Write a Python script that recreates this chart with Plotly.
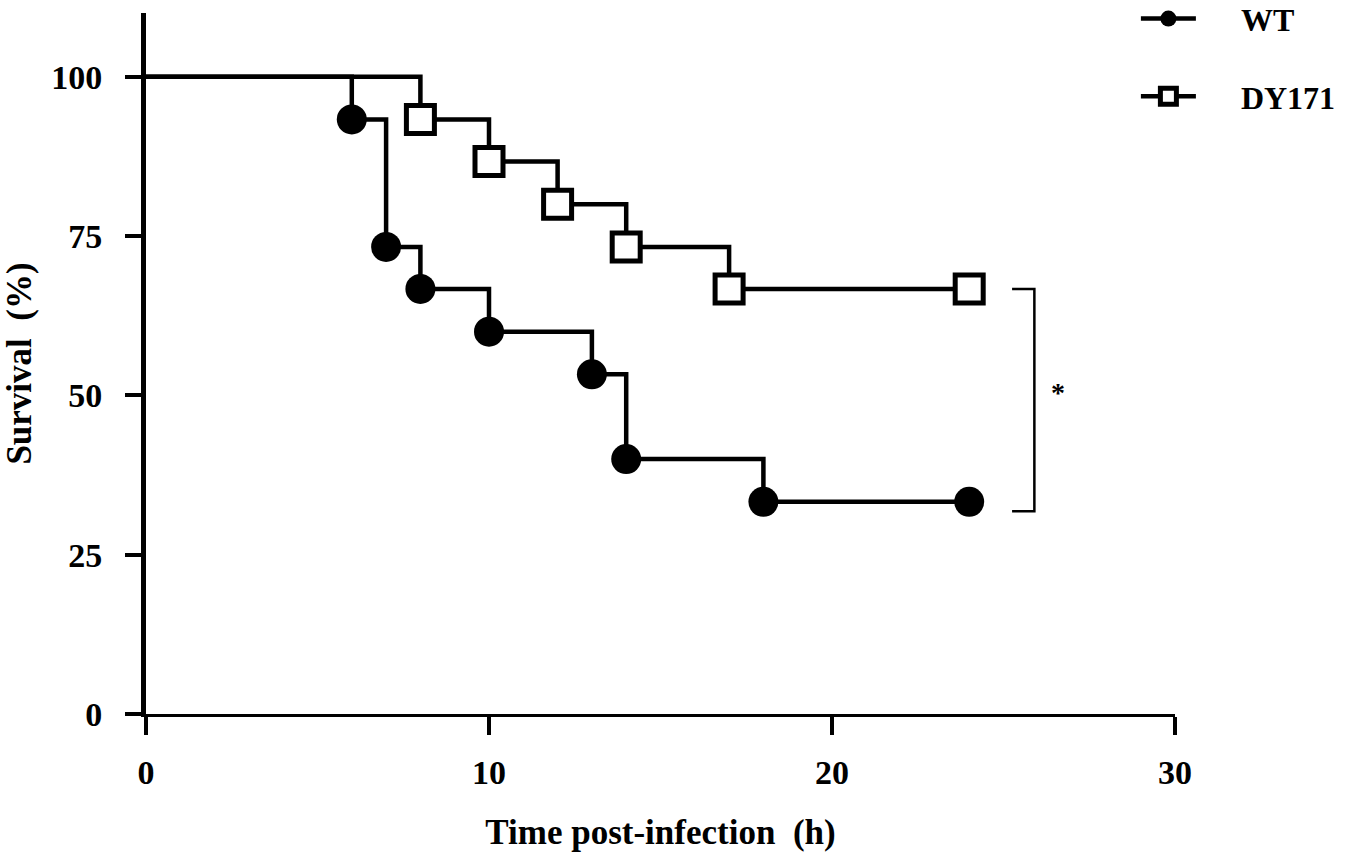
import plotly.graph_objects as go

# Kaplan-Meier survival data (time in h, survival in %)
wt_time = [0, 6, 7, 8, 10, 13, 14, 18, 24]
wt_surv = [100, 93.3, 73.3, 66.7, 60.0, 53.3, 40.0, 33.3, 33.3]
dy_time = [0, 8, 10, 12, 14, 17, 24]
dy_surv = [100, 93.3, 86.7, 80.0, 73.3, 66.7, 66.7]

x_ticks = [0, 10, 20, 30]
y_ticks = [0, 25, 50, 75, 100]

FONT = "Liberation Serif"
NB = "\u00a0"

def sizes(n, s):
    return [0] + [s] * (n - 1)

fig = go.Figure()
fig.add_trace(go.Scatter(
    x=wt_time, y=wt_surv, mode="lines+markers", name=NB * 5 + "WT",
    line=dict(shape="hv", color="black", width=4.5),
    marker=dict(symbol="circle", size=sizes(len(wt_time), 30), color="black",
                opacity=1, line=dict(width=0)),
    legendgroup="a",
))
fig.add_trace(go.Scatter(
    x=dy_time, y=dy_surv, mode="lines+markers", name=NB * 5 + "DY171",
    line=dict(shape="hv", color="black", width=4.5),
    marker=dict(symbol="square", size=sizes(len(dy_time), 28), color="white",
                opacity=1, line=dict(width=5, color="black")),
    legendgroup="b",
))

# significance bracket between final survival levels
br_x0, br_x1 = 25.25, 25.9
br_top, br_bot = dy_surv[-1], 31.8
fig.add_shape(type="path",
              path=f"M {br_x0},{br_top} L {br_x1},{br_top} L {br_x1},{br_bot} L {br_x0},{br_bot}",
              line=dict(color="black", width=2.5), xref="x", yref="y")
fig.add_annotation(x=26.6, y=50.5, text="*", showarrow=False,
                   font=dict(family=FONT, size=28, color="black", weight="bold"))

fig.update_layout(
    width=1350, height=858,
    margin=dict(l=146, r=175, t=13, b=144, autoexpand=False),
    paper_bgcolor="white", plot_bgcolor="white",
    font=dict(family=FONT, color="black", weight="bold"),
    showlegend=True,
    legend=dict(x=0.962, xanchor="left", y=1.031, yanchor="top",
                font=dict(family=FONT, size=32, color="black", weight="bold"),
                tracegroupgap=33, itemwidth=55, bgcolor="rgba(0,0,0,0)"),
    xaxis=dict(range=[0, 30], tickvals=x_ticks, ticks="outside", ticklen=18,
               tickwidth=4, tickcolor="black", showline=True, linewidth=3,
               linecolor="black", showgrid=False, zeroline=False,
               tickfont=dict(family=FONT, size=34, color="black", weight="bold"),
               ticklabelstandoff=8,
               title=dict(text="Time post-infection " + NB + "(h)",
                          font=dict(family=FONT, size=35, color="black", weight="bold"),
                          standoff=30)),
    yaxis=dict(range=[0, 110], tickvals=y_ticks, ticks="outside", ticklen=16,
               tickwidth=4, tickcolor="black", showline=True, linewidth=5,
               linecolor="black", showgrid=False, zeroline=False,
               tickfont=dict(family=FONT, size=34, color="black", weight="bold"),
               ticklabelstandoff=16,
               title=dict(text="Survival " + NB + "(%)",
                          font=dict(family=FONT, size=35, color="black", weight="bold"),
                          standoff=12)),
)

fig.write_html("out.html",
               config={"displayModeBar": False},
               post_script="document.body.style.margin='0px';document.body.style.overflow='hidden';")
